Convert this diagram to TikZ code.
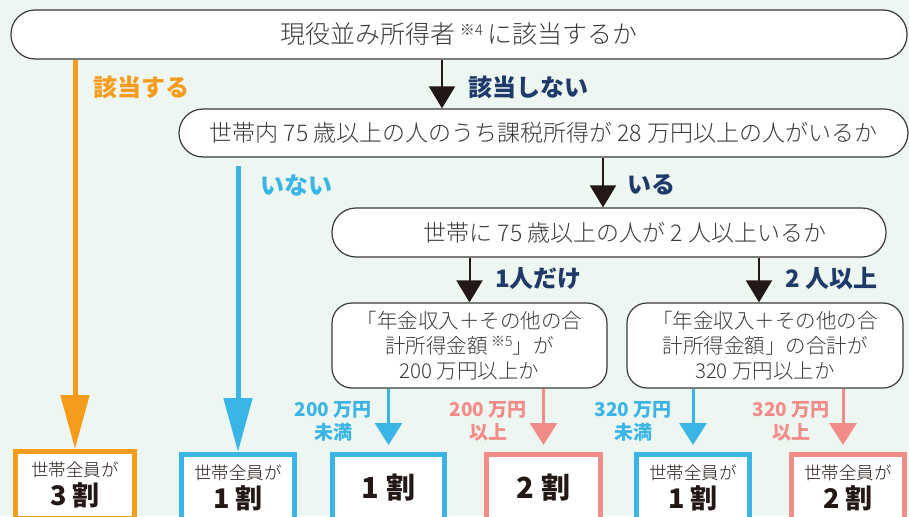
\documentclass[tikz,border=0pt]{standalone}
\usepackage{fontspec}
\setmainfont{Noto Sans CJK JP}[UprightFont={* Light},BoldFont={* Black}]
\usetikzlibrary{arrows.meta,calc}
\definecolor{bgmint}{HTML}{EEF6F2}
\definecolor{ansorange}{HTML}{F59C1C}
\definecolor{ansblue}{HTML}{3BB5E6}
\definecolor{anspink}{HTML}{F28C88}
\definecolor{ansnavy}{HTML}{1E3A6B}
\definecolor{inkgray}{HTML}{3A3A3A}
\definecolor{arrowblack}{HTML}{231815}
\begin{document}
\begin{tikzpicture}[x=1pt,y=-1pt,
  qbox/.style={draw=inkgray,line width=1.2pt,fill=white,rounded corners=24pt,inner sep=0pt,text=inkgray,font=\fontsize{23}{28}\selectfont},
  qtall/.style={qbox,rounded corners=20pt,align=center,font=\fontsize{20.5}{25}\selectfont},
  kbox/.style={draw=#1,line width=5pt,fill=white,inner sep=0pt,align=center,text=arrowblack},
  blackarr/.style={draw=arrowblack,line width=2pt,-{Triangle[length=22pt,width=26pt]}},
  bigarr/.style={draw=#1,line width=5pt,-{Triangle[length=54pt,width=28pt]}},
  smallarr/.style={draw=#1,line width=3pt,-{Triangle[length=22pt,width=27pt]}},
  ans/.style={text=#1,font=\fontsize{24}{28}\selectfont\bfseries,anchor=west,inner sep=0pt},
  amt/.style={text=#1,font=\fontsize{19}{23}\selectfont\bfseries,align=center,inner sep=0pt}]
\clip (0,0) rectangle (909,516);
\fill[bgmint] (0,0) rectangle (909,516);
% questions
\node[qbox,minimum width=896pt,minimum height=49pt,font=\fontsize{25}{30}\selectfont] (q1) at (459,34.5)
  {現役並み所得者\,\raisebox{8pt}{\fontsize{15}{15}\selectfont ※4}\,に該当するか};
\node[qbox,minimum width=729pt,minimum height=48pt] (q2) at (543.5,133)
  {世帯内 75 歳以上の人のうち課税所得が 28 万円以上の人がいるか};
\node[qbox,minimum width=554pt,minimum height=49pt] (q3) at (609,232.5)
  {\hspace*{32pt}世帯に 75 歳以上の人が 2 人以上いるか};
\node[qtall,minimum width=275pt,minimum height=85pt] (q4) at (469.5,345.5)
  {「年金収入＋その他の合\\計所得金額\,\raisebox{7pt}{\fontsize{14}{14}\selectfont ※5}」が\\200 万円以上か};
\node[qtall,minimum width=276pt,minimum height=85pt] (q5) at (765,345.5)
  {「年金収入＋その他の合\\計所得金額」の合計が\\320 万円以上か};
% results
\node[kbox=ansorange,minimum width=119pt,minimum height=67pt,anchor=north] (b1) at (75,449)
  {\fontsize{17.5}{20}\selectfont 世帯全員が\\[3pt]\fontsize{27}{30}\selectfont\bfseries 3 割};
\node[kbox=ansblue,minimum width=113pt,minimum height=67pt,anchor=north] (b2) at (238,452)
  {\fontsize{17.5}{20}\selectfont 世帯全員が\\[3pt]\fontsize{27}{30}\selectfont\bfseries 1 割};
\node[kbox=ansblue,minimum width=112pt,minimum height=67pt,anchor=north] (b3) at (388.5,452)
  {\fontsize{29}{34}\selectfont\bfseries 1 割};
\node[kbox=anspink,minimum width=114pt,minimum height=67pt,anchor=north] (b4) at (543.5,452)
  {\fontsize{29}{34}\selectfont\bfseries 2 割};
\node[kbox=ansblue,minimum width=113pt,minimum height=67pt,anchor=north] (b5) at (693,452)
  {\fontsize{17.5}{20}\selectfont 世帯全員が\\[3pt]\fontsize{27}{30}\selectfont\bfseries 1 割};
\node[kbox=anspink,minimum width=113pt,minimum height=67pt,anchor=north] (b6) at (848,452)
  {\fontsize{17.5}{20}\selectfont 世帯全員が\\[3pt]\fontsize{27}{30}\selectfont\bfseries 2 割};
% branch labels
\node[ans=ansorange] (l1) at (93,87) {該当する};
\node[ans=ansnavy] (l2) at (468,87) {該当しない};
\node[ans=ansblue] (l3) at (260,185) {いない};
\node[ans=ansnavy] (l4) at (627,185) {いる};
\node[ans=ansnavy] (l5) at (495,279) {1人だけ};
\node[ans=ansnavy] (l6) at (785,279) {2 人以上};
\node[amt=ansblue] (m1) at (333,421) {200 万円\\未満};
\node[amt=anspink] (m2) at (488,421) {200 万円\\以上};
\node[amt=ansblue] (m3) at (633,421) {320 万円\\未満};
\node[amt=anspink] (m4) at (791,421) {320 万円\\以上};
% arrows
\coordinate (k1) at (442,0);
\coordinate (k2) at (603,0);
\coordinate (k4) at (759,0);
\coordinate (k5) at (843,0);
\draw[blackarr] (q1.south -| k1) -- (q2.north -| k1);
\draw[blackarr] (q2.south -| k2) -- (q3.north -| k2);
\draw[blackarr] (q3.south -| q4.north) -- (q4.north);
\draw[blackarr] (q3.south -| k4) -- (q5.north -| k4);
\draw[bigarr=ansorange] (q1.south -| b1.north) -- (b1.north);
\draw[bigarr=ansblue] ($(q2.south -| b2.north)+(0,8)$) -- (b2.north);
\draw[smallarr=ansblue] (q4.south -| b3.north) -- ($(b3.north)+(0,-7)$);
\draw[smallarr=anspink] (q4.south -| b4.north) -- ($(b4.north)+(0,-7)$);
\draw[smallarr=ansblue] (q5.south -| b5.north) -- ($(b5.north)+(0,-7)$);
\draw[smallarr=anspink] (q5.south -| k5) -- ($(b6.north -| k5)+(0,-7)$);
\end{tikzpicture}
\end{document}
